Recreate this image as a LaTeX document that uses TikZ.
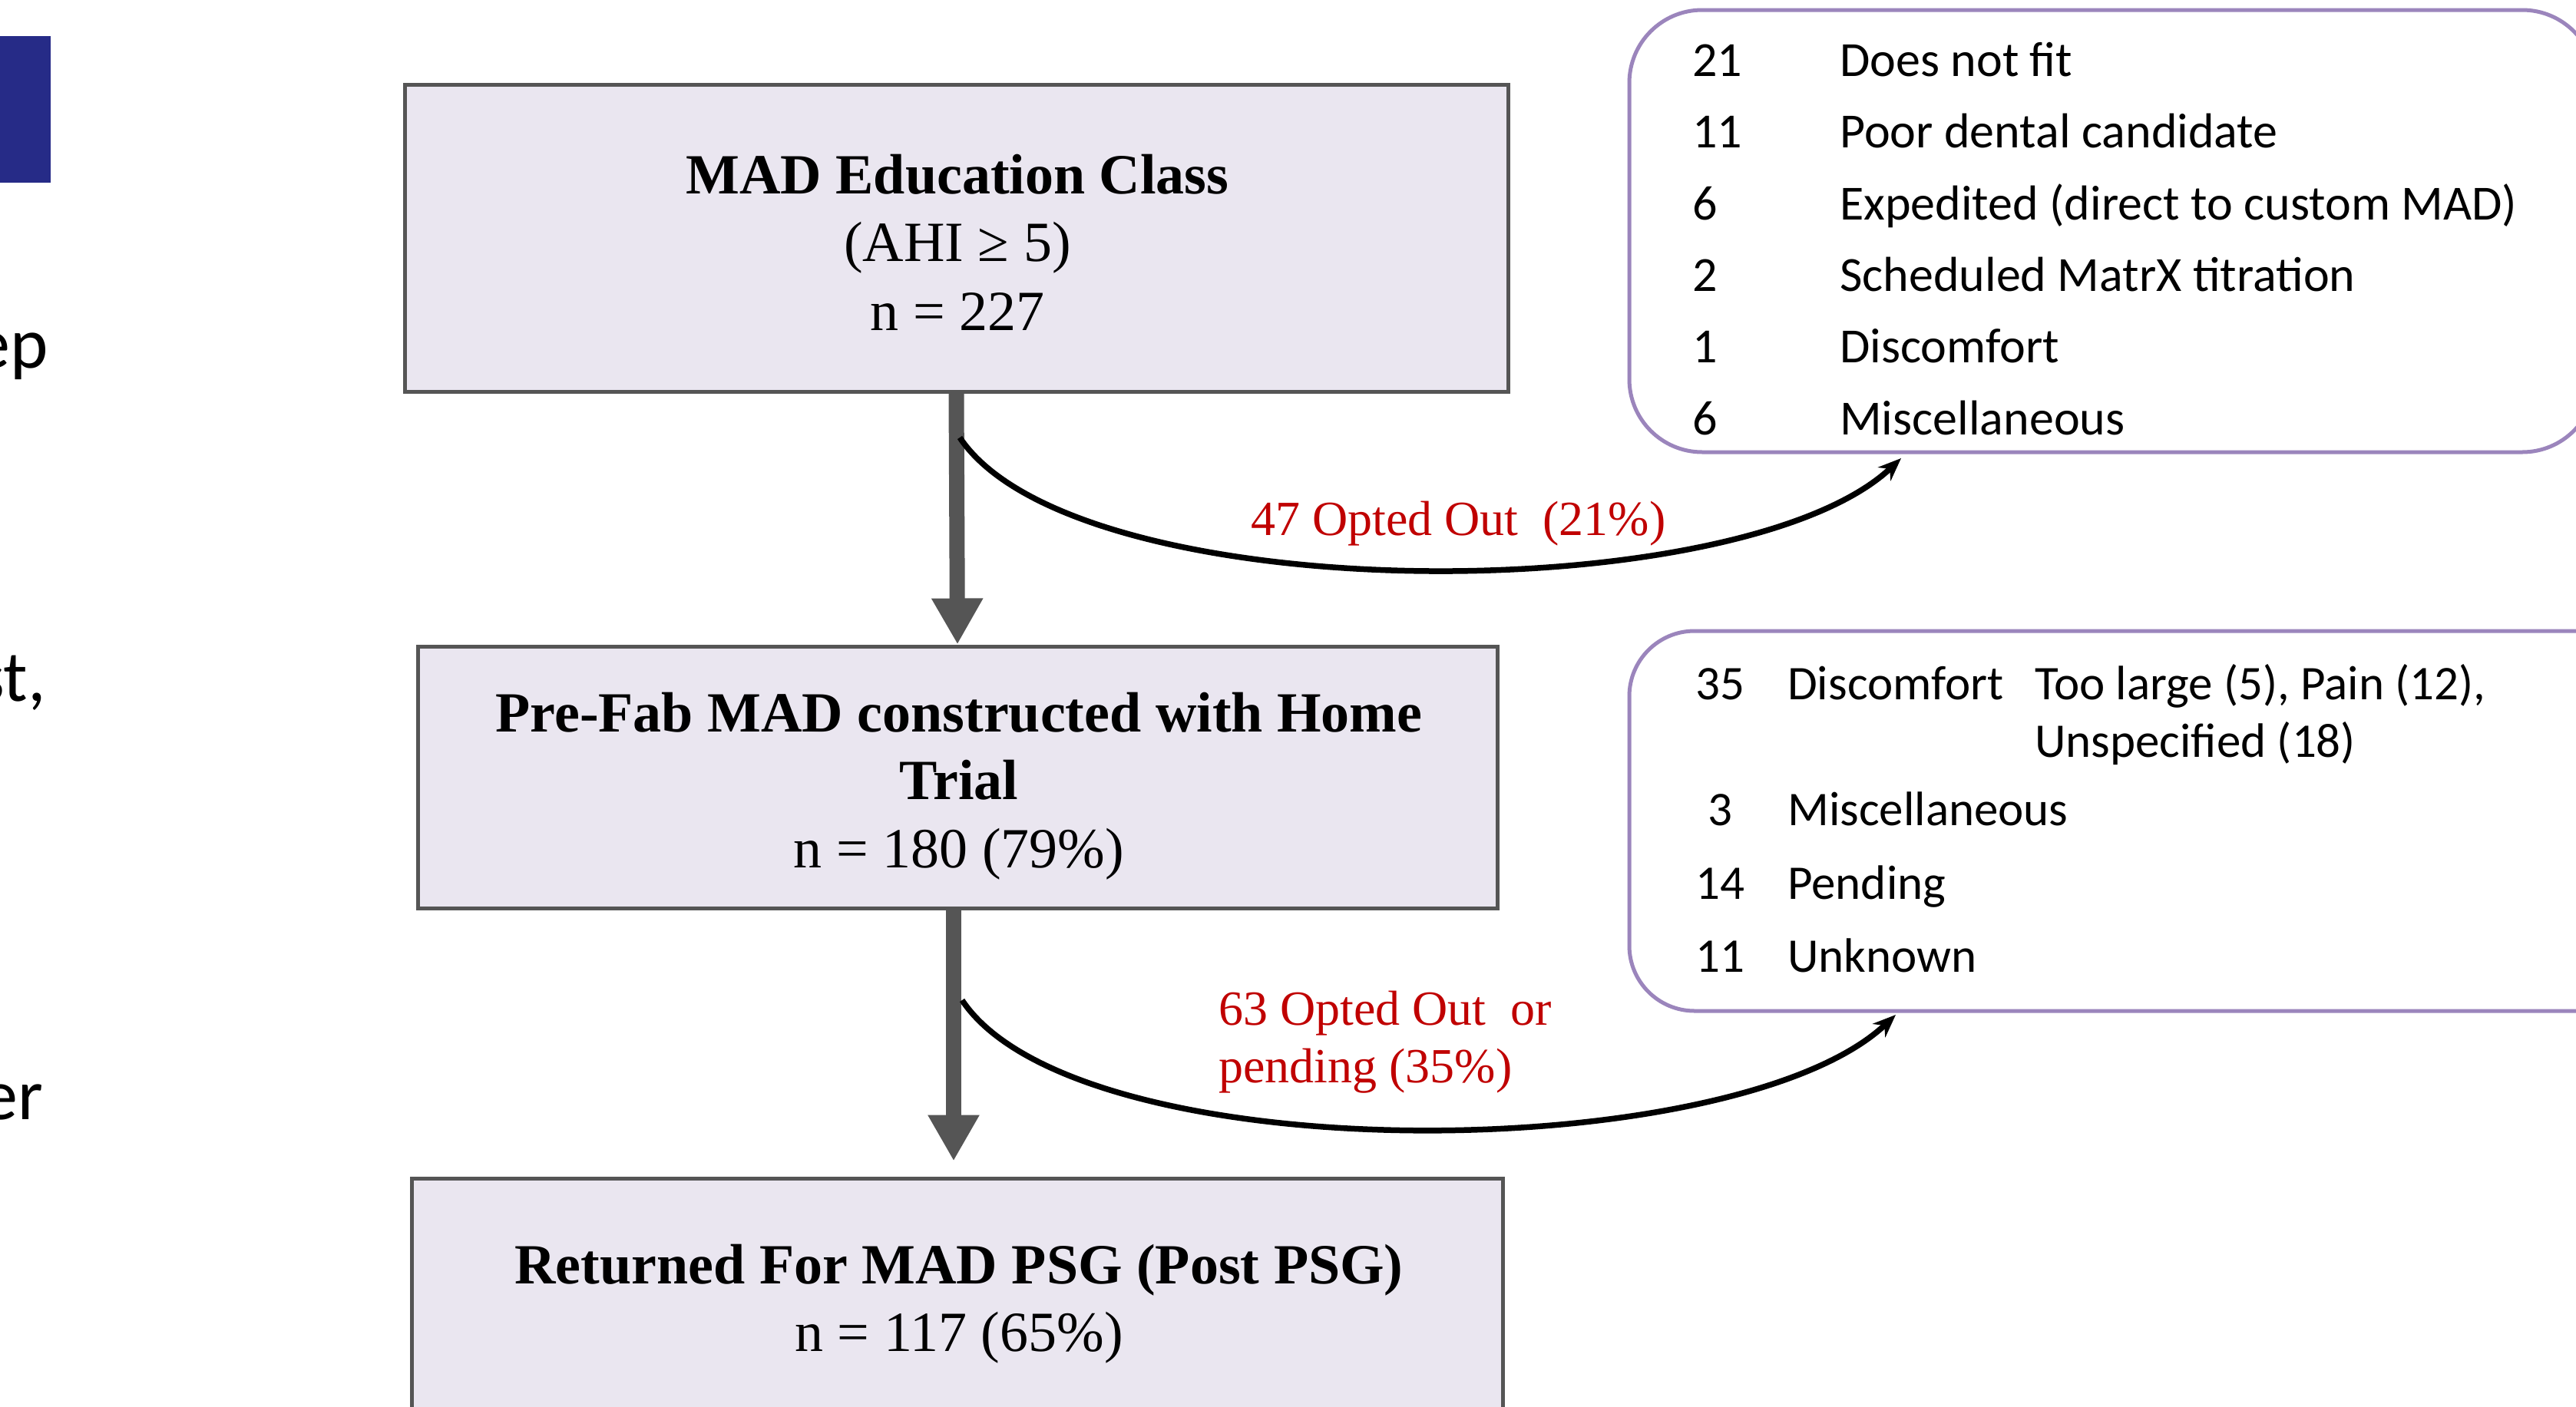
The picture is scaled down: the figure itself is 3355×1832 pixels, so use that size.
\documentclass[tikz,border=0pt]{standalone}
\usepackage{fontspec}
\setmainfont{Liberation Serif}
\newfontfamily\calib{Carlito}
\usetikzlibrary{arrows.meta}
\definecolor{boxfill}{RGB}{234,230,240}
\definecolor{boxline}{RGB}{85,85,85}
\definecolor{purp}{RGB}{155,133,188}
\definecolor{lblred}{RGB}{192,0,0}
\definecolor{slideblue}{RGB}{38,43,135}
\begin{document}
\begin{tikzpicture}[x=1pt,y=-1pt,
  flowbox/.style={draw=boxline, line width=5pt, fill=boxfill, rectangle, inner sep=0pt},
  listbox/.style={draw=purp, line width=5pt, fill=white, rectangle, inner sep=0pt},
  boxtxt/.style={anchor=base, inner sep=0pt, font=\fontsize{74}{89}\selectfont},
  boxbold/.style={anchor=base, inner sep=0pt, font=\fontsize{74}{89}\selectfont\bfseries},
  redlbl/.style={anchor=base west, inner sep=0pt, text=lblred, font=\fontsize{64}{75}\selectfont},
  rownum/.style={anchor=base west, inner sep=0pt, font=\calib\fontsize{64}{75}\selectfont},
  rownumc/.style={anchor=base, inner sep=0pt, font=\calib\fontsize{63}{75}\selectfont},
  rowtxt/.style={anchor=base west, inner sep=0pt, font=\calib\fontsize{64}{75}\selectfont},
  rowtxtb/.style={anchor=base west, inner sep=0pt, font=\calib\fontsize{63}{75}\selectfont},
  slidetxt/.style={anchor=base east, inner sep=0pt, font=\calib\fontsize{94}{110}\selectfont},
  flowarrow/.style={draw=boxline, line width=20pt, -{Triangle[width=63pt,length=60pt]}},
  optarrow/.style={draw=black, line width=7.5pt, -{Stealth[length=30pt,width=24pt]}}
]
\useasboundingbox (0,0) rectangle (3355,1832);
\clip (0,0) rectangle (3355,1832);
\fill[white] (0,0) rectangle (3355,1832);

% remnants of the slide on the left
\fill[slideblue] (0,47) rectangle (66,238);
\node[slidetxt] (sa) at (63,479) {ep};
\node[slidetxt] (sb) at (60,913) {st,};
\node[slidetxt] (sc) at (56,1458) {er};

% flow boxes
\node[flowbox, minimum width=1437pt, minimum height=400pt] (b1) at (1245.5,310) {};
\node[flowbox, minimum width=1406pt, minimum height=341pt] (b2) at (1247,1012.5) {};
\node[flowbox, minimum width=1421pt, minimum height=400pt] (b3) at (1247,1735) {};

\node[boxbold] (b1a) at (1247,252) {MAD Education Class};
\node[boxtxt]  (b1b) at (1247,340) {(AHI ≥ 5)};
\node[boxtxt]  (b1c) at (1247,430) {n = 227};

\node[boxbold] (b2a) at (1249,953) {Pre-Fab MAD constructed with Home};
\node[boxbold] (b2b) at (1249,1041) {Trial};
\node[boxtxt]  (b2c) at (1249,1130) {n = 180 (79\%)};

\node[boxbold] (b3a) at (1249,1672) {Returned For MAD PSG (Post PSG)};
\node[boxtxt]  (b3b) at (1249,1760) {n = 117 (65\%)};

% main flow arrows
\draw[flowarrow] (b1.south) -- (b2.north);
\draw[flowarrow, shorten >=20pt] ([xshift=-5pt]b2.south) -- ([xshift=-5pt]b3.north);

% list boxes
\node[listbox, rounded corners=95pt, minimum width=1258pt, minimum height=576pt] (la) at (2751,301) {};
\node[listbox, rounded corners=85pt, minimum width=1318pt, minimum height=495pt] (lb) at (2781,1069.5) {};

\node[rownum] (la1n) at (2204,99)  {21};
\node[rowtxt] (la1t) at (2396,99)  {Does not fit};
\node[rownum] (la2n) at (2204,192) {11};
\node[rowtxt] (la2t) at (2396,192) {Poor dental candidate};
\node[rownum] (la3n) at (2204,286) {6};
\node[rowtxt] (la3t) at (2396,286) {Expedited (direct to custom MAD)};
\node[rownum] (la4n) at (2204,379) {2};
\node[rowtxt] (la4t) at (2396,379) {Scheduled MatrX titration};
\node[rownum] (la5n) at (2204,472) {1};
\node[rowtxt] (la5t) at (2396,472) {Discomfort};
\node[rownum] (la6n) at (2204,566) {6};
\node[rowtxt] (la6t) at (2396,566) {Miscellaneous};

\node[rownumc] (lb1n) at (2240,911)  {35};
\node[rowtxtb] (lb1t) at (2328,911)  {Discomfort};
\node[rowtxtb] (lb1d) at (2650,911)  {Too large (5), Pain (12),};
\node[rowtxtb] (lb1e) at (2650,986)  {Unspecified (18)};
\node[rownumc] (lb2n) at (2240,1075) {3};
\node[rowtxtb] (lb2t) at (2328,1075) {Miscellaneous};
\node[rownumc] (lb3n) at (2240,1171) {14};
\node[rowtxtb] (lb3t) at (2328,1171) {Pending};
\node[rownumc] (lb4n) at (2240,1266) {11};
\node[rowtxtb] (lb4t) at (2328,1266) {Unknown};

% opt-out connectors
\coordinate (o1s) at (1250,570);
\coordinate (o1e) at (2476,597);
\draw[optarrow] (o1s) .. controls +(150,225) and +(-210,198) .. (o1e);
\node[redlbl] (o1l) at (1629,697) {47 Opted Out\ \ (21\%)};

\coordinate (o2s) at (1253,1303);
\coordinate (o2e) at (2469,1322);
\draw[optarrow] (o2s) .. controls +(150,225) and +(-210,198) .. (o2e);
\node[redlbl] (o2l) at (1587,1335) {63 Opted Out\ \ or};
\node[redlbl] (o2m) at (1587,1410) {pending (35\%)};
\end{tikzpicture}
\end{document}
